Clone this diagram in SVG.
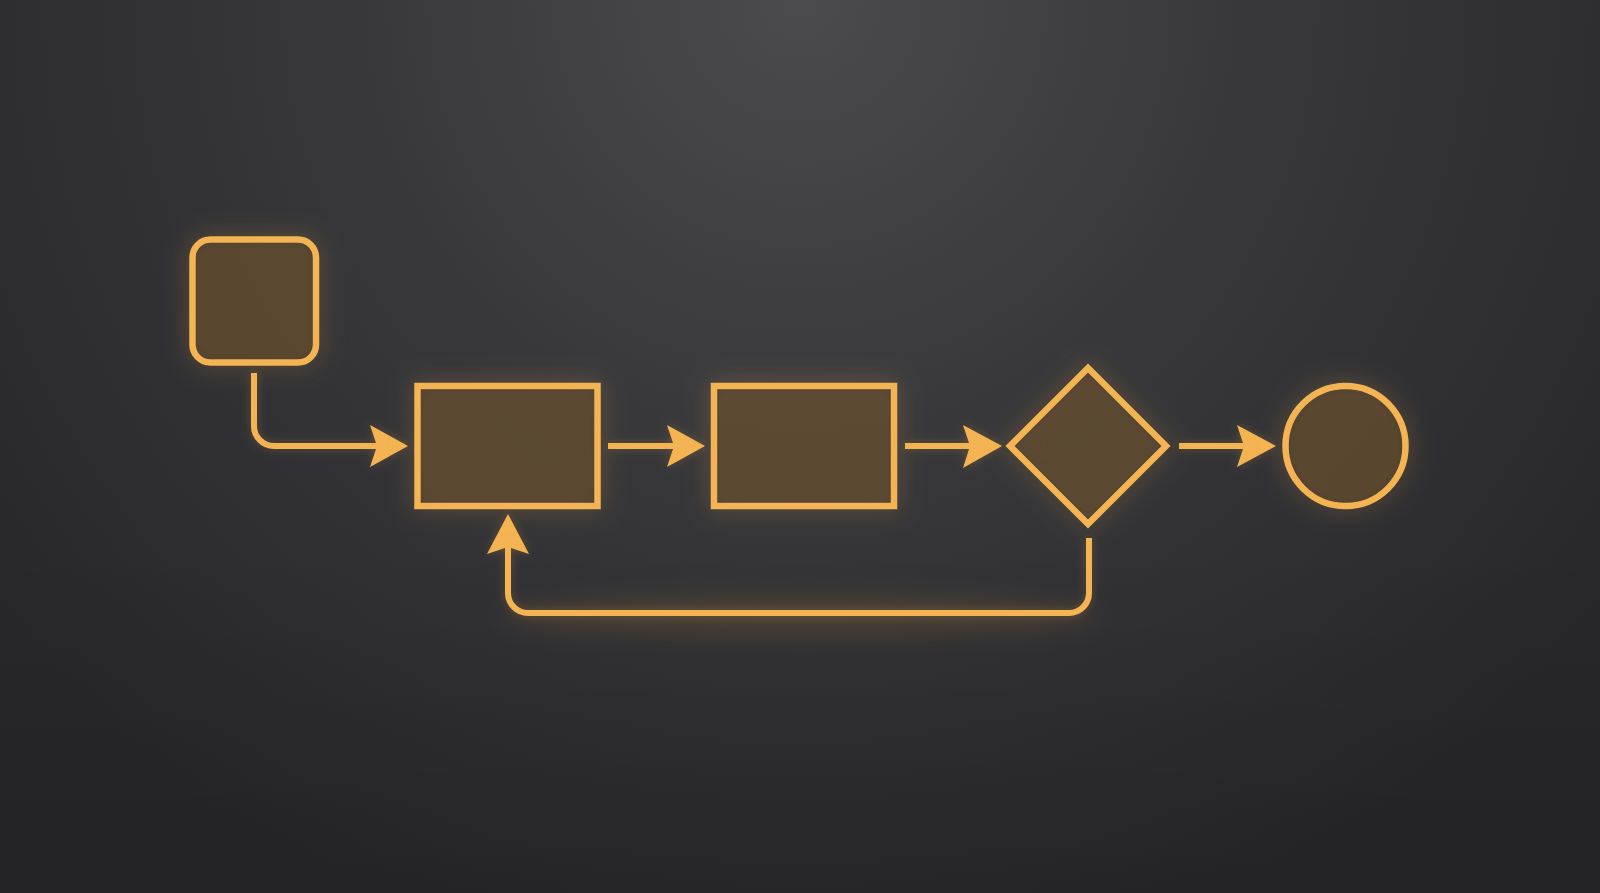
<svg xmlns="http://www.w3.org/2000/svg" width="1600" height="893" viewBox="0 0 1600 893">
<defs>
<radialGradient id="bg" cx="800" cy="0" r="1000" gradientUnits="userSpaceOnUse">
<stop offset="0" stop-color="#4b4b4d"/>
<stop offset="0.45" stop-color="#38383b"/>
<stop offset="1" stop-color="#28282c"/>
</radialGradient>
<linearGradient id="shade" x1="0" y1="0" x2="0" y2="1">
<stop offset="0.6" stop-color="#000" stop-opacity="0"/>
<stop offset="1" stop-color="#000" stop-opacity="0.12"/>
</linearGradient>
<filter id="glow" x="-40%" y="-40%" width="180%" height="180%">
<feGaussianBlur in="SourceAlpha" stdDeviation="12" result="b"/>
<feFlood flood-color="#f0a840" flood-opacity="0.3"/>
<feComposite in2="b" operator="in" result="g"/>
<feMerge><feMergeNode in="g"/><feMergeNode in="SourceGraphic"/></feMerge>
</filter>
<filter id="glow2" x="-20%" y="-40%" width="140%" height="180%">
<feGaussianBlur in="SourceAlpha" stdDeviation="5" result="b"/>
<feFlood flood-color="#f0a840" flood-opacity="0.25"/>
<feComposite in2="b" operator="in" result="g"/>
<feMerge><feMergeNode in="g"/><feMergeNode in="SourceGraphic"/></feMerge>
</filter>
<filter id="soft" x="-20%" y="-100%" width="140%" height="300%">
<feGaussianBlur stdDeviation="14"/>
</filter>
</defs>
<style>
.node{fill:#4a3c2c;fill-opacity:0.55;stroke:#f4b452;stroke-width:6.5;stroke-linejoin:miter}
.edge{fill:none;stroke:#f4b452;stroke-width:6;stroke-linecap:butt}
.head{fill:#f4b452}
</style>
<rect width="1600" height="893" fill="url(#bg)"/>
<rect width="1600" height="893" fill="url(#shade)"/>
<ellipse cx="800" cy="616" rx="300" ry="16" fill="#c88a30" opacity="0.2" filter="url(#soft)"/>
<g id="connectors" filter="url(#glow2)">
<path class="edge" d="M254,373 V426 A20,20 0 0 0 274,446 H378"/>
<path class="head" d="M408,446 L370,425 L377,446 L370,467 Z"/>
<path class="edge" d="M608,446 H675"/>
<path class="head" d="M705,446 L667,425 L674,446 L667,467 Z"/>
<path class="edge" d="M905,446 H971"/>
<path class="head" d="M1002,446 L963,425 L970,446 L963,468 Z"/>
<path class="edge" d="M1179,446 H1245"/>
<path class="head" d="M1276,446 L1237,425 L1244,446 L1237,467 Z"/>
<path class="edge" d="M1089,538 V593 A20,20 0 0 1 1069,613 H528 A20,20 0 0 1 508,593 V545"/>
<path class="head" d="M508,514 L487,554 L508,547 L529,554 Z"/>
</g>
<g id="start" filter="url(#glow)">
<rect class="node" x="192.5" y="239.5" width="123.5" height="123" rx="18"/>
</g>
<g id="process1" filter="url(#glow)">
<rect class="node" x="417.5" y="386" width="180" height="120"/>
</g>
<g id="process2" filter="url(#glow)">
<rect class="node" x="714" y="386" width="180" height="120"/>
</g>
<g id="decision" filter="url(#glow)">
<path class="node" d="M1088,368 L1166,446 L1088,524 L1010,446 Z"/>
</g>
<g id="end" filter="url(#glow)">
<circle class="node" cx="1345.5" cy="446" r="60"/>
</g>
</svg>
